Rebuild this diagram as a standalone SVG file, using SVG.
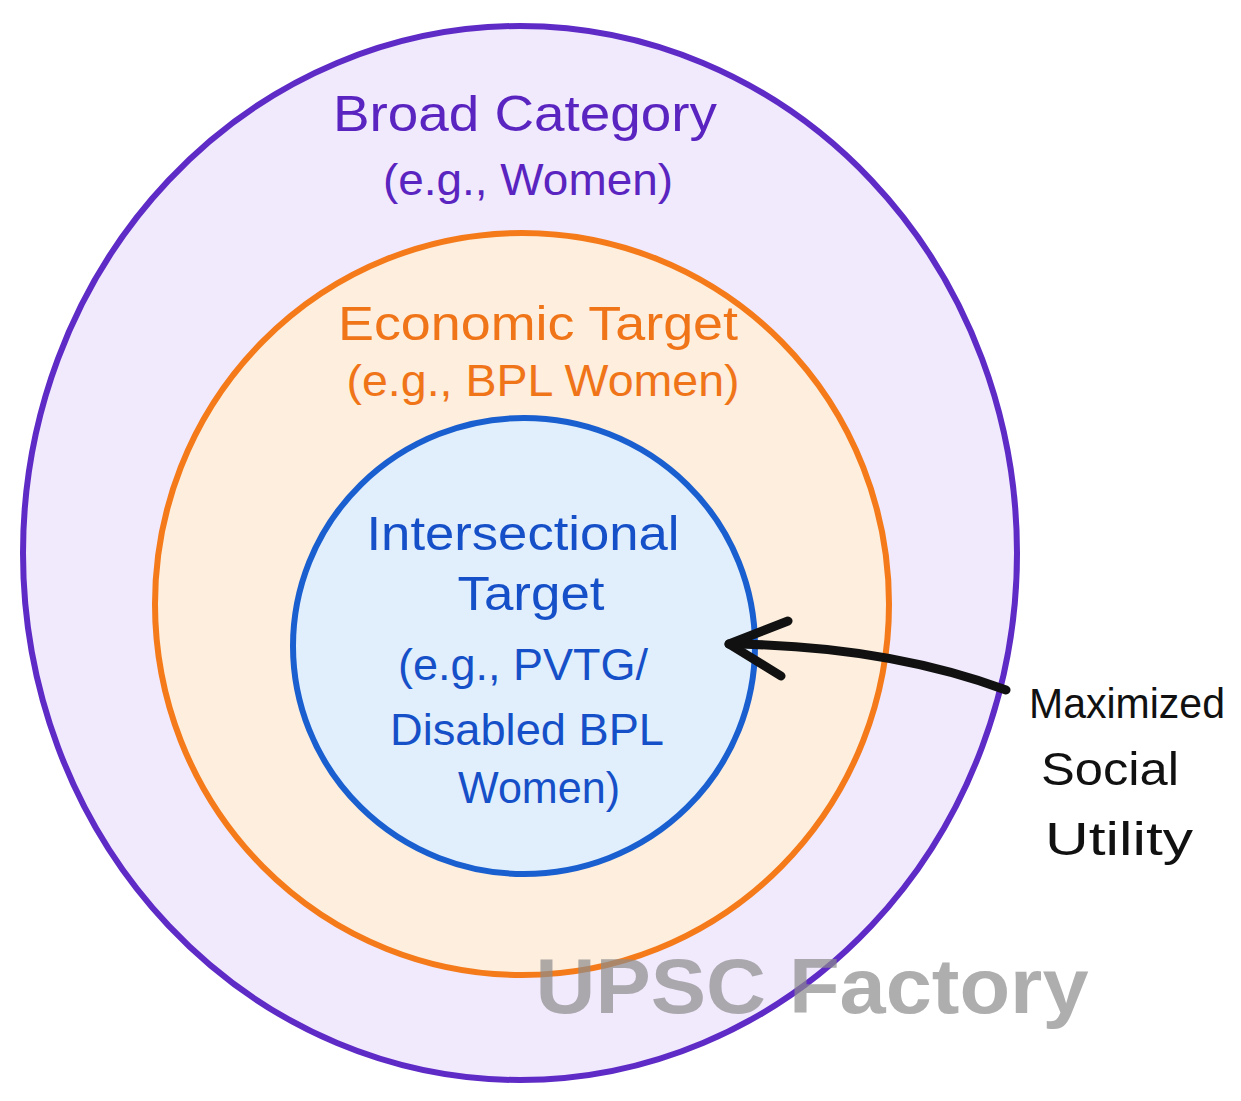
<svg xmlns="http://www.w3.org/2000/svg" width="1241" height="1101" viewBox="0 0 1241 1101">
<style>
.t{font-family:"Liberation Sans",Arial,sans-serif;text-anchor:middle}
.p{fill:#5a24c0}
.o{fill:#f07418}
.b{fill:#1650c8}
.k{fill:#111111}
</style>
<rect width="1241" height="1101" fill="#ffffff"/>
<g id="broad">
<ellipse cx="520" cy="553" rx="497" ry="527" fill="#f1e9fc" stroke="#5e2bc6" stroke-width="6"/>
<text class="t p" x="525" y="131" font-size="50" textLength="384" lengthAdjust="spacingAndGlyphs">Broad Category</text>
<text class="t p" x="528" y="195" font-size="44" textLength="290" lengthAdjust="spacingAndGlyphs">(e.g., Women)</text>
</g>
<g id="economic">
<ellipse cx="522" cy="604" rx="367" ry="371" fill="#fdeedd" stroke="#f47a1a" stroke-width="6"/>
<text class="t o" x="538" y="340" font-size="48" textLength="400" lengthAdjust="spacingAndGlyphs">Economic Target</text>
<text class="t o" x="543" y="396" font-size="44" textLength="393" lengthAdjust="spacingAndGlyphs">(e.g., BPL Women)</text>
</g>
<g id="intersectional">
<ellipse cx="524" cy="646" rx="231" ry="228" fill="#e1effc" stroke="#1a5fd0" stroke-width="6"/>
<text class="t b" x="523" y="550" font-size="48" textLength="313" lengthAdjust="spacingAndGlyphs">Intersectional</text>
<text class="t b" x="531" y="610" font-size="48" textLength="147" lengthAdjust="spacingAndGlyphs">Target</text>
<text class="t b" x="523" y="680" font-size="44" textLength="250" lengthAdjust="spacingAndGlyphs">(e.g., PVTG/</text>
<text class="t b" x="527" y="745" font-size="44" textLength="274" lengthAdjust="spacingAndGlyphs">Disabled BPL</text>
<text class="t b" x="539" y="803" font-size="44" textLength="162" lengthAdjust="spacingAndGlyphs">Women)</text>
</g>
<g id="utility">
<text class="t k" x="1127" y="718" font-size="42" textLength="196" lengthAdjust="spacingAndGlyphs">Maximized</text>
<text class="t k" x="1110" y="785" font-size="47" textLength="138" lengthAdjust="spacingAndGlyphs">Social</text>
<text class="t k" x="1119" y="855" font-size="47" textLength="148" lengthAdjust="spacingAndGlyphs">Utility</text>
</g>
<g id="connectors" fill="none" stroke="#111111" stroke-width="9" stroke-linecap="round" stroke-linejoin="round">
<path d="M1006,690 C930,662 840,645 729,644"/>
<path d="M788,621 L729,644 L781,676"/>
</g>
<g id="watermark">
<text x="812" y="1013" font-family="Liberation Sans, Arial, sans-serif" font-weight="700" font-size="78" fill="#8c8c8c" fill-opacity="0.7" text-anchor="middle" textLength="553" lengthAdjust="spacingAndGlyphs">UPSC Factory</text>
</g>
</svg>
